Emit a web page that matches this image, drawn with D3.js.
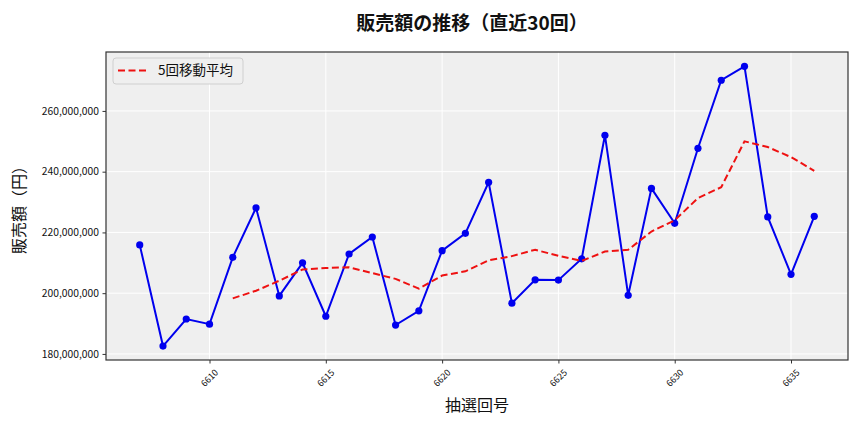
<!DOCTYPE html>
<html><head><meta charset="utf-8">
<script src="https://cdn.jsdelivr.net/npm/d3@7"></script>
<style>
body{margin:0;background:#fff;}
text{font-family:"Noto Sans CJK JP","Noto Sans",sans-serif;}
</style></head>
<body><svg id="c" width="864" height="432"></svg>
<script>
const draws = [6607,6608,6609,6610,6611,6612,6613,6614,6615,6616,6617,6618,6619,6620,6621,6622,6623,6624,6625,6626,6627,6628,6629,6630,6631,6632,6633,6634,6635,6636];
const sales = [215.9,182.6,191.5,189.8,211.8,228.1,199.1,210.0,192.4,212.9,218.5,189.5,194.2,214.0,219.7,236.5,196.7,204.4,204.3,211.3,252.0,199.3,234.5,223.0,247.7,270.1,274.7,225.1,206.2,225.3].map(v=>v*1e6);
const maDraws = [6611,6612,6613,6614,6615,6616,6617,6618,6619,6620,6621,6622,6623,6624,6625,6626,6627,6628,6629,6630,6631,6632,6633,6634,6635,6636];
const maValues = [198.3,200.8,204.1,207.8,208.3,208.5,206.6,204.7,201.5,205.8,207.2,210.8,212.2,214.3,212.3,210.6,213.7,214.3,220.3,224.0,231.3,234.9,250.0,248.1,244.8,240.3].map(v=>v*1e6);
const xTicks = [6610,6615,6620,6625,6630,6635];
const yTicks = [180e6,200e6,220e6,240e6,260e6];
const title = "販売額の推移（直近30回）";
const xLabel = "抽選回号";
const yLabel = "販売額（円）";
const legendLabel = "5回移動平均";

const svg = d3.select("#c");
const L=106, R=848, T=52, B=360;
const x = d3.scaleLinear().domain([6605.55,6637.45]).range([L,R]);
const y = d3.scaleLinear().domain([178.0e6,279.4e6]).range([B,T]);

svg.append("rect").attr("x",L).attr("y",T).attr("width",R-L).attr("height",B-T).attr("fill","#efefef");
svg.append("g").selectAll("line").data(xTicks).join("line")
  .attr("x1",d=>x(d)).attr("x2",d=>x(d)).attr("y1",T).attr("y2",B)
  .attr("stroke","#fff").attr("stroke-width",1);
svg.append("g").selectAll("line").data(yTicks).join("line")
  .attr("y1",d=>y(d)).attr("y2",d=>y(d)).attr("x1",L).attr("x2",R)
  .attr("stroke","#fff").attr("stroke-width",1);

const fmt = d3.format(",");
const ya = svg.append("g").attr("transform",`translate(${L},0)`)
  .call(d3.axisLeft(y).tickValues(yTicks).tickFormat(d=>fmt(d)).tickSize(3.5).tickPadding(3.5));
ya.select(".domain").remove();
ya.selectAll("text").attr("font-size",10.3).attr("fill","#111");
ya.selectAll("line").attr("stroke","#333");
const xa = svg.append("g").attr("transform",`translate(0,${B})`)
  .call(d3.axisBottom(x).tickValues(xTicks).tickFormat(d=>d).tickSize(3.5));
xa.select(".domain").remove();
xa.selectAll("line").attr("stroke","#333");
xa.selectAll("text").attr("font-size",9).attr("fill","#111")
  .attr("text-anchor","middle").attr("dy",null).attr("y",0)
  .attr("transform","translate(0,18.5) rotate(-45)").attr("dominant-baseline","middle");

svg.append("rect").attr("x",L).attr("y",T).attr("width",R-L).attr("height",B-T)
  .attr("fill","none").attr("stroke","#333").attr("stroke-width",1.2);

const line = d3.line().x(d=>x(d[0])).y(d=>y(d[1]));
const pts = draws.map((d,i)=>[d,sales[i]]);
svg.append("path").attr("d",line(pts)).attr("fill","none").attr("stroke","#0000ee").attr("stroke-width",2);
svg.append("g").selectAll("circle").data(pts).join("circle")
  .attr("cx",d=>x(d[0])).attr("cy",d=>y(d[1])).attr("r",3.6).attr("fill","#0000ee");
const ma = maDraws.map((d,i)=>[d,maValues[i]]);
svg.append("path").attr("d",line(ma)).attr("fill","none").attr("stroke","#ee1111")
  .attr("stroke-width",2).attr("stroke-dasharray","7,3.5");

svg.append("rect").attr("x",113).attr("y",58).attr("width",130).attr("height",26).attr("rx",3)
  .attr("fill","#efefef").attr("stroke","#cfcfcf").attr("stroke-width",1);
svg.append("line").attr("x1",118).attr("x2",147).attr("y1",70.5).attr("y2",70.5)
  .attr("stroke","#ee1111").attr("stroke-width",2).attr("stroke-dasharray","7,3.5");
svg.append("text").attr("x",158).attr("y",71).attr("dominant-baseline","middle")
  .attr("font-size",13.5).attr("fill","#111").text(legendLabel);

svg.append("text").attr("x",472).attr("y",25).attr("text-anchor","middle").attr("dominant-baseline","middle")
  .attr("font-size",19).attr("font-weight","bold").attr("fill","#111").text(title);
svg.append("text").attr("x",477).attr("y",407).attr("text-anchor","middle").attr("dominant-baseline","middle")
  .attr("font-size",16).attr("fill","#111").text(xLabel);
svg.append("text").attr("transform","translate(21,206) rotate(-90)").attr("text-anchor","middle").attr("dominant-baseline","middle")
  .attr("font-size",16).attr("fill","#111").text(yLabel);
</script></body></html>
